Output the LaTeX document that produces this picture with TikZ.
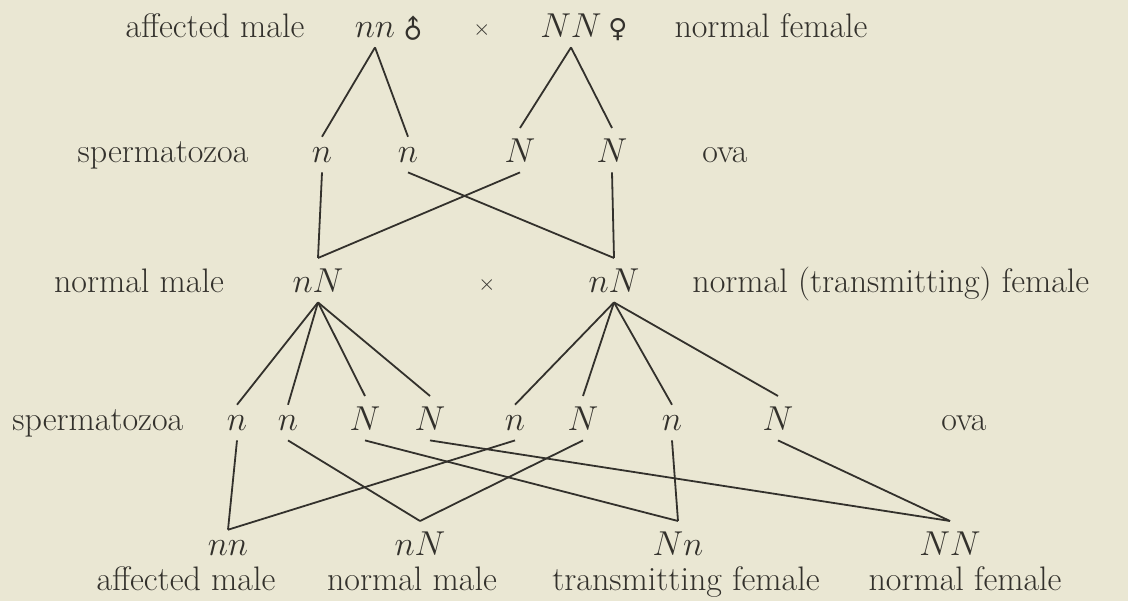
\documentclass[tikz,border=0pt]{standalone}
\usepackage{fontspec}
\newfontfamily\signfont{DejaVu Sans}
\definecolor{paper}{HTML}{EAE7D3}
\definecolor{ink}{HTML}{33312C}
\tikzset{
  lbl/.style={anchor=base,text=ink,font=\fontsize{17}{20}\selectfont,inner sep=0pt},
  gam/.style={anchor=base,text=ink,font=\fontsize{17}{20}\selectfont,inner sep=5pt},
  sign/.style={text=ink,font=\signfont\fontsize{13}{15}\selectfont,inner sep=0pt},
  cross/.style={text=ink,font=\fontsize{11}{13}\selectfont,inner sep=0pt},
  ln/.style={draw=ink,line width=.9pt},
}

\begin{document}
\begin{tikzpicture}[x=0.5pt,y=-0.5pt]
  \fill[paper] (0,0) rectangle (1128,601);
  \useasboundingbox (0,0) rectangle (1128,601);
  % first cross
  \node[lbl] (amale) at (215,37) {affected male};
  \node[gam] (pm) at (375,37) {$nn$};
  \node[sign,rotate=45] (msign) at (413,30) {♂};
  \node[cross] (x1) at (482,30) {$\times$};
  \node[gam] (pf) at (571,37) {$NN$};
  \node[sign] (fsign) at (618,30) {♀};
  \node[lbl] (nfemale) at (771,37) {normal female};
  % gametes of the first cross
  \node[lbl] (sperm1) at (163,162) {spermatozoa};
  \node[gam] (s1) at (322,162) {$n$};
  \node[gam] (s2) at (408,162) {$n$};
  \node[gam] (o1) at (520,162) {$N$};
  \node[gam] (o2) at (612,162) {$N$};
  \node[lbl] (ova1) at (725,162) {ova};
  % offspring, crossed again
  \node[lbl] (nmale) at (139,292) {normal male};
  \node[gam] (mm) at (318,292) {$nN$};
  \node[cross] (x2) at (487,285) {$\times$};
  \node[gam] (ff) at (614,292) {$nN$};
  \node[lbl,anchor=base west] (tfemale) at (692,292) {normal (transmitting) female};
  % gametes of the second cross
  \node[lbl,anchor=base west] (sperm2) at (12,430) {spermatozoa};
  \node[gam] (m1) at (237,430) {$n$};
  \node[gam] (m2) at (288,430) {$n$};
  \node[gam] (m3) at (365,430) {$N$};
  \node[gam] (m4) at (430,430) {$N$};
  \node[gam] (f1) at (515,430) {$n$};
  \node[gam] (f2) at (583,430) {$N$};
  \node[gam] (f3) at (672,430) {$n$};
  \node[gam] (f4) at (778,430) {$N$};
  \node[lbl] (ova2) at (964,430) {ova};
  % grandchildren
  \node[gam] (g1) at (228,555) {$nn$};
  \node[gam] (g2) at (420,555) {$nN$};
  \node[gam] (g3) at (678,555) {$Nn$};
  \node[gam] (g4) at (950,555) {$NN$};
  \node[lbl] (k1) at (186,590) {affected male};
  \node[lbl] (k2) at (412,590) {normal male};
  \node[lbl] (k3) at (686,590) {transmitting female};
  \node[lbl] (k4) at (965,590) {normal female};
  % connectors
  \foreach \a/\b in {pm/s1,pm/s2,pf/o1,pf/o2,s1/mm,o1/mm,s2/ff,o2/ff}
    \draw[ln] (\a.south) -- (\b.north);
  \foreach \c in {m1,m2,m3,m4} \draw[ln] (mm.south) -- (\c.north);
  \foreach \c in {f1,f2,f3,f4} \draw[ln] (ff.south) -- (\c.north);
  \foreach \a/\b in {m1/g1,f1/g1,m2/g2,f2/g2,m3/g3,f3/g3,m4/g4,f4/g4}
    \draw[ln] (\a.south) -- (\b.north);
\end{tikzpicture}
\end{document}
